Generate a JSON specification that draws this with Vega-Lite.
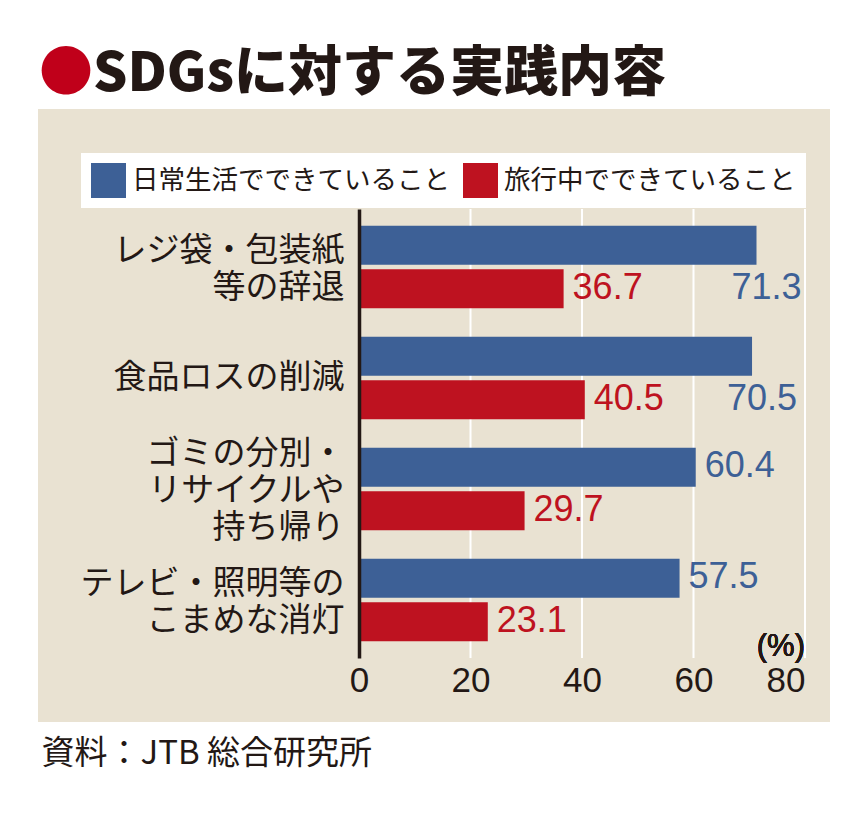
{
  "$schema": "https://vega.github.io/schema/vega-lite/v6.json",
  "width": 792,
  "height": 613,
  "autosize": {"type": "none"},
  "padding": {"left": 38, "top": 109, "right": 38, "bottom": 91},
  "background": "white",
  "title": {
    "text": "●",
    "color": "#c0001a",
    "font": "Noto Sans CJK JP",
    "fontSize": 54,
    "anchor": "start",
    "frame": "group",
    "offset": 7,
    "dx": 1,
    "subtitle": "\u200b\u3000SDGsに対する実践内容",
    "subtitleFont": "Noto Sans CJK JP",
    "subtitleFontSize": 54,
    "subtitleFontWeight": 900,
    "subtitleColor": "#231815",
    "subtitlePadding": -54
  },
  "datasets": {
    "main": [
      {"cat": "レジ袋・包装紙\n等の辞退", "series": "日常生活でできていること", "value": 71.3},
      {"cat": "レジ袋・包装紙\n等の辞退", "series": "旅行中でできていること", "value": 36.7},
      {"cat": "食品ロスの削減", "series": "日常生活でできていること", "value": 70.5},
      {"cat": "食品ロスの削減", "series": "旅行中でできていること", "value": 40.5},
      {"cat": "ゴミの分別・\nリサイクルや\n持ち帰り", "series": "日常生活でできていること", "value": 60.4},
      {"cat": "ゴミの分別・\nリサイクルや\n持ち帰り", "series": "旅行中でできていること", "value": 29.7},
      {"cat": "テレビ・照明等の\nこまめな消灯", "series": "日常生活でできていること", "value": 57.5},
      {"cat": "テレビ・照明等の\nこまめな消灯", "series": "旅行中でできていること", "value": 23.1}
    ],
    "grid": [{"value": 20}, {"value": 40}, {"value": 60}, {"value": 80}]
  },
  "resolve": {"scale": {"y": "independent"}, "axis": {"y": "independent"}},
  "encoding": {
    "x": {
      "field": "value",
      "type": "quantitative",
      "scale": {"domain": [0, 80], "range": [321, 767], "nice": false, "zero": false},
      "axis": {
        "orient": "bottom",
        "offset": -64,
        "values": [0, 20, 40, 60, 80],
        "domain": false,
        "ticks": false,
        "grid": false,
        "labelFlush": false,
        "labelOverlap": false,
        "labelFont": "Liberation Sans",
        "labelFontSize": 35,
        "labelColor": "#231815",
        "labelPadding": 5,
        "labelAlign": {"condition": {"test": "datum.value == 80", "value": "right"}, "value": "center"},
        "title": "資料：JTB 総合研究所",
        "titleFont": "Noto Sans CJK JP",
        "titleFontSize": 33,
        "titleFontWeight": "normal",
        "titleColor": "#231815",
        "titleAlign": "left",
        "titleBaseline": "middle",
        "titleAngle": 0,
        "titleX": 3,
        "titleY": 95
      }
    }
  },
  "layer": [
    {
      "data": {"name": "grid"},
      "mark": {"type": "rule", "color": "white", "strokeWidth": 2},
      "encoding": {
        "y": {"datum": 0, "type": "quantitative", "scale": {"domain": [0, 1], "range": [100, 549]}, "axis": null},
        "y2": {"datum": 1}
      }
    },
    {
      "data": {"name": "main"},
      "encoding": {
        "y": {
          "field": "cat",
          "type": "nominal",
          "sort": null,
          "scale": {"range": [100, 549], "paddingInner": 0.257, "paddingOuter": 0.151},
          "axis": {
            "orient": "left",
            "offset": -321,
            "title": null,
            "zindex": 1,
            "domainColor": "#231815",
            "domainWidth": 3.5,
            "ticks": false,
            "labelPadding": 15,
            "labelFont": "Noto Sans CJK JP",
            "labelFontSize": 33,
            "labelColor": "#231815",
            "labelLineHeight": 37,
            "labelBaseline": "middle",
            "labelLimit": 500,
            "labelOffset": {
              "condition": [
                {"test": "indexof(datum.value, 'ゴミ') == 0", "value": -35},
                {"test": "indexof(datum.value, '食品') == 0", "value": 0}
              ],
              "value": -16
            },
            "labelExpr": "split(datum.label, '\\n')"
          }
        },
        "yOffset": {
          "field": "series",
          "type": "nominal",
          "sort": ["日常生活でできていること", "旅行中でできていること"],
          "scale": {"paddingInner": 0.1, "paddingOuter": 0}
        }
      },
      "layer": [
        {
          "mark": {"type": "bar"},
          "encoding": {
            "color": {
              "field": "series",
              "type": "nominal",
              "sort": ["日常生活でできていること", "旅行中でできていること"],
              "scale": {"domain": ["日常生活でできていること", "旅行中でできていること"], "range": ["#3d6096", "#be1220"]},
              "legend": {
                "orient": "none",
                "legendX": 43,
                "legendY": 44,
                "direction": "horizontal",
                "title": null,
                "fillColor": "white",
                "padding": 10,
                "symbolType": "square",
                "symbolSize": 1225,
                "symbolStrokeWidth": 0,
                "symbolOpacity": 1,
                "labelFont": "Noto Sans CJK JP",
                "labelFontSize": 26.5,
                "labelColor": "#231815",
                "labelLimit": 600,
                "labelOffset": 6,
                "columnPadding": 13
              }
            }
          }
        },
        {
          "transform": [{"filter": "datum.series == '旅行中でできていること'"}],
          "mark": {"type": "text", "align": "left", "baseline": "middle", "dx": 9, "dy": -1, "font": "Liberation Sans", "fontSize": 36, "color": "#be1220"},
          "encoding": {"text": {"field": "value", "type": "quantitative", "format": ".1f"}}
        },
        {
          "transform": [{"filter": "datum.series == '日常生活でできていること' && datum.value < 65"}],
          "mark": {"type": "text", "align": "left", "baseline": "middle", "dx": 9, "dy": -1, "font": "Liberation Sans", "fontSize": 36, "color": "#3d6096"},
          "encoding": {"text": {"field": "value", "type": "quantitative", "format": ".1f"}}
        },
        {
          "transform": [{"filter": "datum.series == '日常生活でできていること' && datum.value >= 65"}],
          "mark": {"type": "text", "align": "left", "baseline": "middle", "dx": -25, "dy": -1, "font": "Liberation Sans", "fontSize": 36, "color": "#3d6096"},
          "encoding": {
            "text": {"field": "value", "type": "quantitative", "format": ".1f"},
            "yOffset": {"datum": "旅行中でできていること"}
          }
        },
        {
          "mark": {"type": "text", "align": "right", "baseline": "middle", "dy": 25, "font": "Liberation Sans", "fontSize": 31, "fontWeight": "normal", "color": "#231815"},
          "encoding": {
            "x": {"datum": 80},
            "y": {"datum": "テレビ・照明等の\nこまめな消灯"},
            "yOffset": {"datum": "旅行中でできていること"},
            "text": {"value": "(%)"}
          }
        }
      ]
    }
  ],
  "config": {
    "view": {"fill": "#e9e2d2", "stroke": null},
    "font": "Noto Sans CJK JP",
    "axis": {"labelLineHeight": 37}
  }
}
